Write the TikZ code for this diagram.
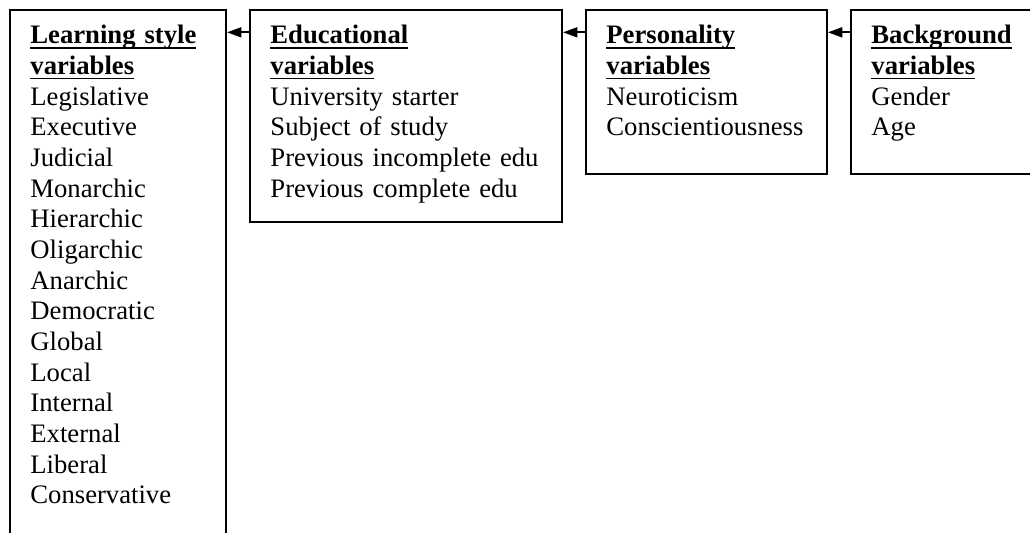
\documentclass[tikz,border=0pt]{standalone}
\usepackage{fontspec}
\setmainfont{Liberation Serif}
\usetikzlibrary{arrows.meta}
\newsavebox{\hdbox}
\newcommand{\hd}[1]{\leavevmode\sbox{\hdbox}{\textbf{#1}}\rlap{\rule[-2.1pt]{\wd\hdbox}{0.8pt}}\usebox{\hdbox}}

\begin{document}
\begin{tikzpicture}[x=0.45pt,y=-0.45pt,
  varbox/.style={draw,line width=0.9pt,anchor=north west,align=left,
    inner xsep=9.2pt,inner ysep=0pt,text height=15.3pt,
    font=\fontsize{12}{13.8}\selectfont},
  arr/.style={line width=0.9pt,-{Triangle[length=6.5pt,width=4.5pt]}}]
\useasboundingbox (0,0) rectangle (1030,533);
\clip (0,0) rectangle (1030,533);
\node [varbox,text width=78.8pt,text depth=260pt] (learn) at (9,9)
  {\hd{Learning style}\\ \hd{variables}\\ Legislative\\ Executive\\ Judicial\\ Monarchic\\ Hierarchic\\ Oligarchic\\ Anarchic\\ Democratic\\ Global\\ Local\\ Internal\\ External\\ Liberal\\ Conservative};
\node [varbox,text width=122pt,text depth=80.1pt] (edu) at (249,9)
  {\hd{Educational}\\ \hd{variables}\\ University starter\\ Subject of study\\ Previous incomplete edu\\ Previous complete edu};
\node [varbox,text width=90pt,text depth=58.5pt] (pers) at (585,9)
  {\hd{Personality}\\ \hd{variables}\\ Neuroticism\\ Conscientiousness};
\node [varbox,text width=100pt,text depth=58.5pt] (back) at (850,9)
  {\hd{Background}\\ \hd{variables}\\ Gender\\ Age};
\draw [arr] ([yshift=-10.5pt]edu.north west) -- ([yshift=-10.5pt]learn.north east);
\draw [arr] ([yshift=-10.5pt]pers.north west) -- ([yshift=-10.5pt]edu.north east);
\draw [arr] ([yshift=-10.5pt]back.north west) -- ([yshift=-10.5pt]pers.north east);
\end{tikzpicture}
\end{document}
